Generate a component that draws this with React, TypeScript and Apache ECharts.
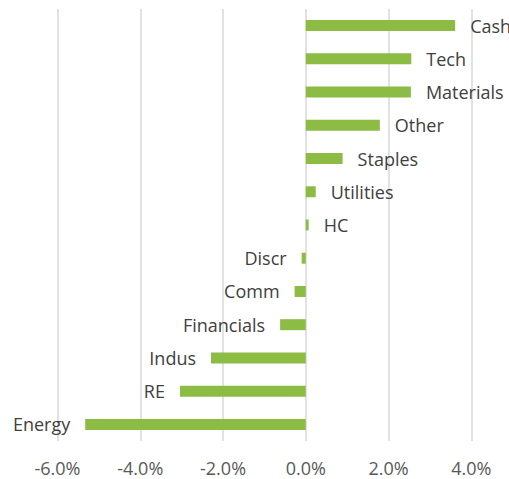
import React, { useEffect, useRef } from "react";
import * as echarts from "echarts";

const categories = ["Cash", "Tech", "Materials", "Other", "Staples", "Utilities", "HC", "Discr", "Comm", "Financials", "Indus", "RE", "Energy"];
const values = [3.61, 2.55, 2.54, 1.79, 0.89, 0.24, 0.07, -0.1, -0.27, -0.62, -2.29, -3.04, -5.33];
const xTicks = [-6, -4, -2, 0, 2, 4];

export default function App() {
  const ref = useRef<HTMLDivElement>(null);
  useEffect(() => {
    document.body.style.margin = "0";
    const chart = echarts.init(ref.current!, null, { renderer: "svg" });
    const font = "'Open Sans', sans-serif";
    chart.setOption({
      animation: false,
      grid: { left: 57.5, right: 37.7, top: 9, bottom: 38, containLabel: false },
      xAxis: {
        type: "value",
        min: xTicks[0],
        max: xTicks[xTicks.length - 1],
        interval: 2,
        axisLine: { show: false },
        axisTick: { show: false },
        splitLine: { show: true, lineStyle: { color: "#d9d9d9", width: 1.5 } },
        axisLabel: {
          color: "#595959",
          fontFamily: font,
          fontSize: 18,
          margin: 18,
          formatter: (v: number) => v.toFixed(1) + "%",
        },
      },
      yAxis: {
        type: "category",
        data: categories,
        inverse: true,
        axisLine: { show: false },
        axisTick: { show: false },
        axisLabel: { show: false },
        splitLine: { show: false },
      },
      series: [
        {
          type: "bar",
          barWidth: 11,
          itemStyle: { color: "#8cbc44" },
          data: values.map((v) => ({
            value: v,
            label: {
              show: true,
              position: v >= 0 ? "right" : "left",
              distance: 15,
              formatter: "{b}",
              color: "#404040",
              fontFamily: font,
              fontSize: 18,
            },
          })),
        },
      ],
    });
    return () => chart.dispose();
  }, []);
  return <div ref={ref} style={{ width: 509, height: 479 }} />;
}
